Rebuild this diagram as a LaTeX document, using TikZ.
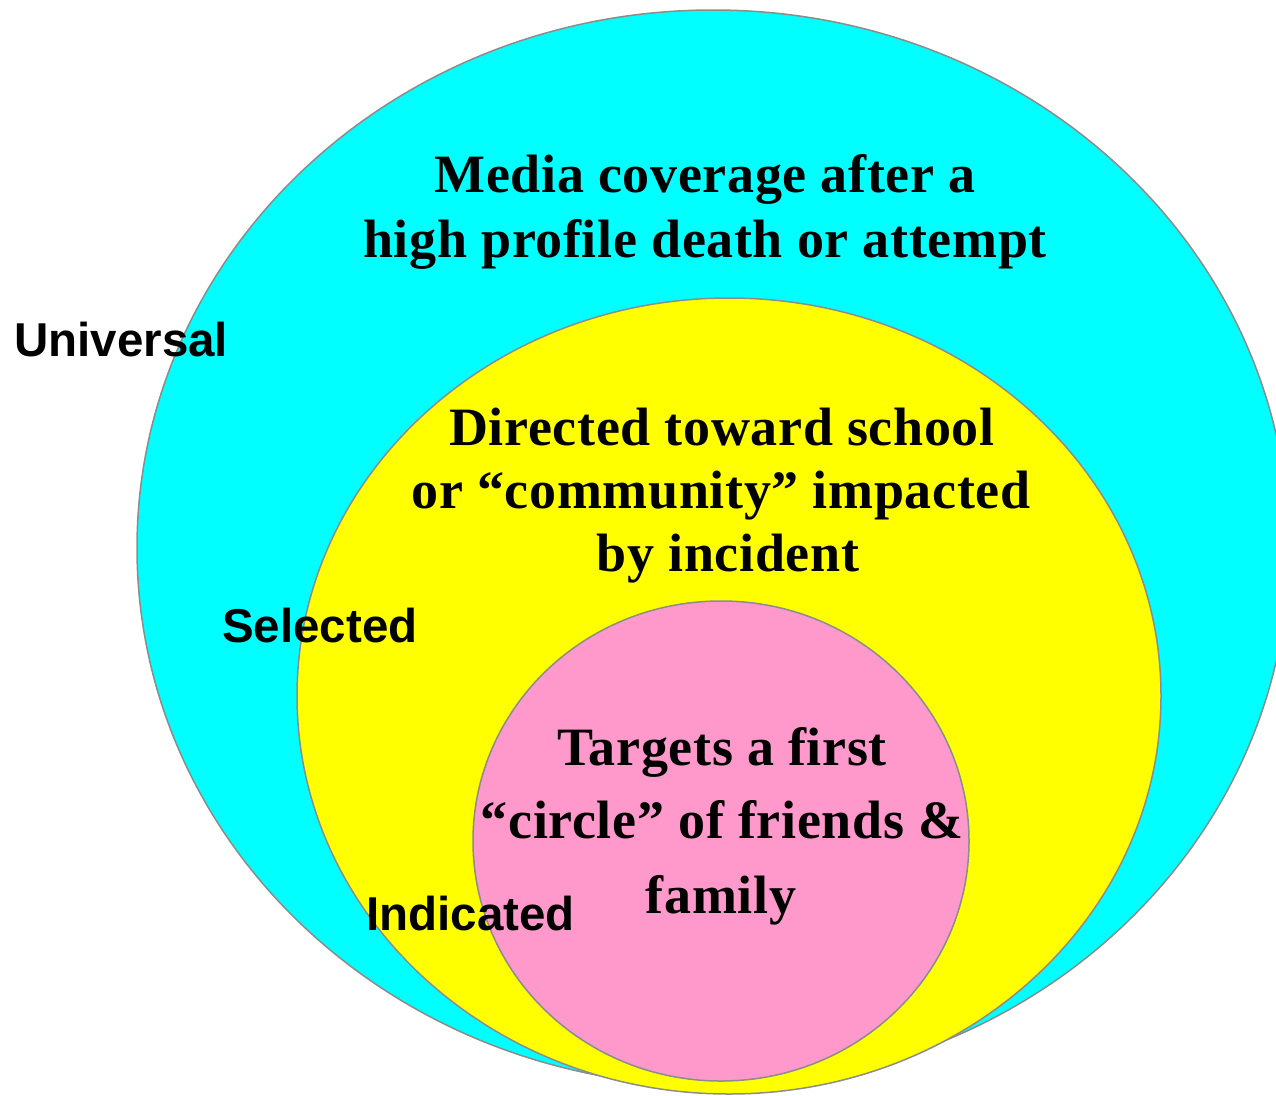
\documentclass[tikz,border=0pt]{standalone}
\usepackage{fontspec}
\setmainfont{Liberation Serif}[LetterSpace=1.2]
\newfontfamily\labelfont{Liberation Sans}
\definecolor{ringline}{HTML}{8C8C8C}
\definecolor{outercyan}{HTML}{00FFFF}
\definecolor{midyellow}{HTML}{FFFF00}
\definecolor{innerpink}{HTML}{FF99CC}
\begin{document}
\begin{tikzpicture}[x=1pt,y=-1pt,
  ring/.style={draw=ringline,line width=1.5pt},
  maintext/.style={anchor=base,inner sep=0pt,font=\fontsize{54}{60}\selectfont\bfseries},
  leveltext/.style={anchor=base west,inner sep=0pt,font=\fontsize{47.5}{54}\selectfont\labelfont\bfseries}]
\useasboundingbox (0,0) rectangle (1276,1095);
\clip (0,0) rectangle (1276,1095);
% rings
\filldraw[ring,fill=outercyan] (713,548) ellipse [x radius=576, y radius=538];
\filldraw[ring,fill=midyellow] (729,696) ellipse [x radius=432, y radius=398];
\filldraw[ring,fill=innerpink] (721,841) ellipse [x radius=248, y radius=240];
% universal text
\node[maintext] (u1) at (705,192) {Media coverage after a};
\node[maintext] (u2) at (705,257) {high profile death or attempt};
% selected text
\node[maintext] (s1) at (722,445) {Directed toward school};
\node[maintext] (s2) at (721,508) {or “community” impacted};
\node[maintext] (s3) at (728,571) {by incident};
% indicated text
\node[maintext] (i1) at (722,765) {Targets a first};
\node[maintext] (i2) at (722,838) {“circle” of friends \&};
\node[maintext] (i3) at (721,913) {family};
% level labels
\node[leveltext] (lu) at (14,356) {Universal};
\node[leveltext] (ls) at (222,642) {Selected};
\node[leveltext] (li) at (366,930) {Indicated};
\end{tikzpicture}
\end{document}
